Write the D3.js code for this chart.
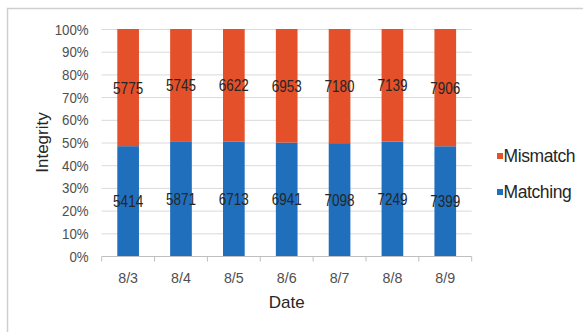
<!DOCTYPE html>
<html>
<head>
<meta charset="utf-8">
<script src="https://cdn.jsdelivr.net/npm/d3@7"></script>
<style>
  html, body { margin: 0; padding: 0; background: #fff; }
  svg { display: block; }
</style>
</head>
<body>
<svg id="chart" width="583" height="332"></svg>
<script>
// Daily integrity counts per date
const dates = ["8/3", "8/4", "8/5", "8/6", "8/7", "8/8", "8/9"];
const matching = [5414, 5871, 6713, 6941, 7098, 7249, 7399];
const mismatch = [5775, 5745, 6622, 6953, 7180, 7139, 7906];
const yTicks = [0, 0.1, 0.2, 0.3, 0.4, 0.5, 0.6, 0.7, 0.8, 0.9, 1.0];
const seriesNames = ["Matching", "Mismatch"];
const seriesColors = { Matching: "#1f6fbd", Mismatch: "#e3502a" };

const narrowFont = "'Liberation Sans Narrow', 'Liberation Sans', Arial, sans-serif";
const squeeze = 0.82; // horizontal condensing for the number labels

const svg = d3.select("#chart");

// Outer chart frame
svg.append("rect")
  .attr("x", 7.5).attr("y", 8.5)
  .attr("width", 620).attr("height", 340)
  .attr("fill", "#fff")
  .attr("stroke", "#cfcfcf")
  .attr("stroke-width", 1.5);

const plot = { left: 101.7, right: 471.7, top: 29, bottom: 256 };

const x = d3.scaleBand()
  .domain(dates)
  .range([plot.left, plot.right])
  .paddingInner(0.59)
  .paddingOuter(0.295);

const y = d3.scaleLinear().domain([0, 1]).range([plot.bottom, plot.top]);

// 100% stacked rows
const rows = dates.map((d, i) => {
  const total = matching[i] + mismatch[i];
  return { date: d, Matching: matching[i] / total, Mismatch: mismatch[i] / total,
           rawMatching: matching[i], rawMismatch: mismatch[i] };
});
const stacked = d3.stack().keys(seriesNames)(rows);

// Horizontal gridlines
svg.append("g")
  .selectAll("line")
  .data(yTicks.filter(t => t > 0))
  .join("line")
  .attr("x1", plot.left).attr("x2", plot.right)
  .attr("y1", d => y(d) + 0.5).attr("y2", d => y(d) + 0.5)
  .attr("stroke", "#d9d9d9")
  .attr("stroke-width", 1);

// Y axis labels
const pct = d3.format(".0%");
svg.append("g")
  .selectAll("text")
  .data(yTicks)
  .join("text")
  .attr("transform", d => `translate(${plot.left - 13},${y(d)}) scale(0.86,1)`)
  .attr("dy", "0.36em")
  .attr("text-anchor", "end")
  .attr("font-family", narrowFont)
  .attr("font-size", 15.5)
  .attr("fill", "#4f4f4f")
  .text(d => pct(d));

// Bars
svg.append("g")
  .selectAll("g")
  .data(stacked)
  .join("g")
  .attr("fill", d => seriesColors[d.key])
  .selectAll("rect")
  .data(d => d)
  .join("rect")
  .attr("x", d => x(d.data.date))
  .attr("width", x.bandwidth())
  .attr("y", d => y(d[1]))
  .attr("height", d => y(d[0]) - y(d[1]));

// X axis with ticks between categories
const xAxis = svg.append("g")
  .attr("transform", `translate(0,${plot.bottom + 0.5})`);
xAxis.append("line")
  .attr("x1", plot.left).attr("x2", plot.right)
  .attr("stroke", "#bfbfbf");
const bounds = d3.range(dates.length + 1).map(i => plot.left + i * x.step());
xAxis.selectAll("line.tick")
  .data(bounds)
  .join("line")
  .attr("class", "tick")
  .attr("x1", d => d).attr("x2", d => d)
  .attr("y1", 0).attr("y2", 5)
  .attr("stroke", "#bfbfbf");
xAxis.selectAll("text")
  .data(dates)
  .join("text")
  .attr("transform", d => `translate(${x(d) + x.bandwidth() / 2},26) scale(0.92,1)`)
  .attr("text-anchor", "middle")
  .attr("font-family", narrowFont)
  .attr("font-size", 15.5)
  .attr("fill", "#4f4f4f")
  .text(d => d);

// Value labels centred in each segment
svg.append("g")
  .selectAll("g")
  .data(stacked)
  .join("g")
  .selectAll("text")
  .data(s => s.map(d => ({ d, key: s.key })))
  .join("text")
  .attr("transform", o => `translate(${x(o.d.data.date) + x.bandwidth() / 2},${y((o.d[0] + o.d[1]) / 2)}) scale(${squeeze},1)`)
  .attr("dy", "0.36em")
  .attr("text-anchor", "middle")
  .attr("font-family", narrowFont)
  .attr("font-size", 16.5)
  .attr("fill", "#262626")
  .text(o => o.key === "Matching" ? o.d.data.rawMatching : o.d.data.rawMismatch);

// Axis titles
svg.append("text")
  .attr("x", (plot.left + plot.right) / 2)
  .attr("y", 308)
  .attr("text-anchor", "middle")
  .attr("font-family", "'Liberation Sans', Arial, sans-serif")
  .attr("font-size", 17)
  .attr("fill", "#262626")
  .text("Date");

svg.append("text")
  .attr("transform", `translate(48,${(plot.top + plot.bottom) / 2}) rotate(-90)`)
  .attr("text-anchor", "middle")
  .attr("font-family", "'Liberation Sans', Arial, sans-serif")
  .attr("font-size", 17)
  .attr("fill", "#262626")
  .text("Integrity");

// Legend
const legendItems = ["Mismatch", "Matching"];
const legend = svg.append("g")
  .selectAll("g")
  .data(legendItems)
  .join("g")
  .attr("transform", (d, i) => `translate(497,${153 + i * 36})`);
legend.append("rect")
  .attr("width", 6).attr("height", 6)
  .attr("fill", d => seriesColors[d]);
legend.append("text")
  .attr("x", 6.5)
  .attr("y", 9)
  .attr("font-family", "'Liberation Sans', Arial, sans-serif")
  .attr("font-size", 17.5)
  .attr("letter-spacing", -0.4)
  .attr("fill", "#262626")
  .text(d => d);
</script>
</body>
</html>
